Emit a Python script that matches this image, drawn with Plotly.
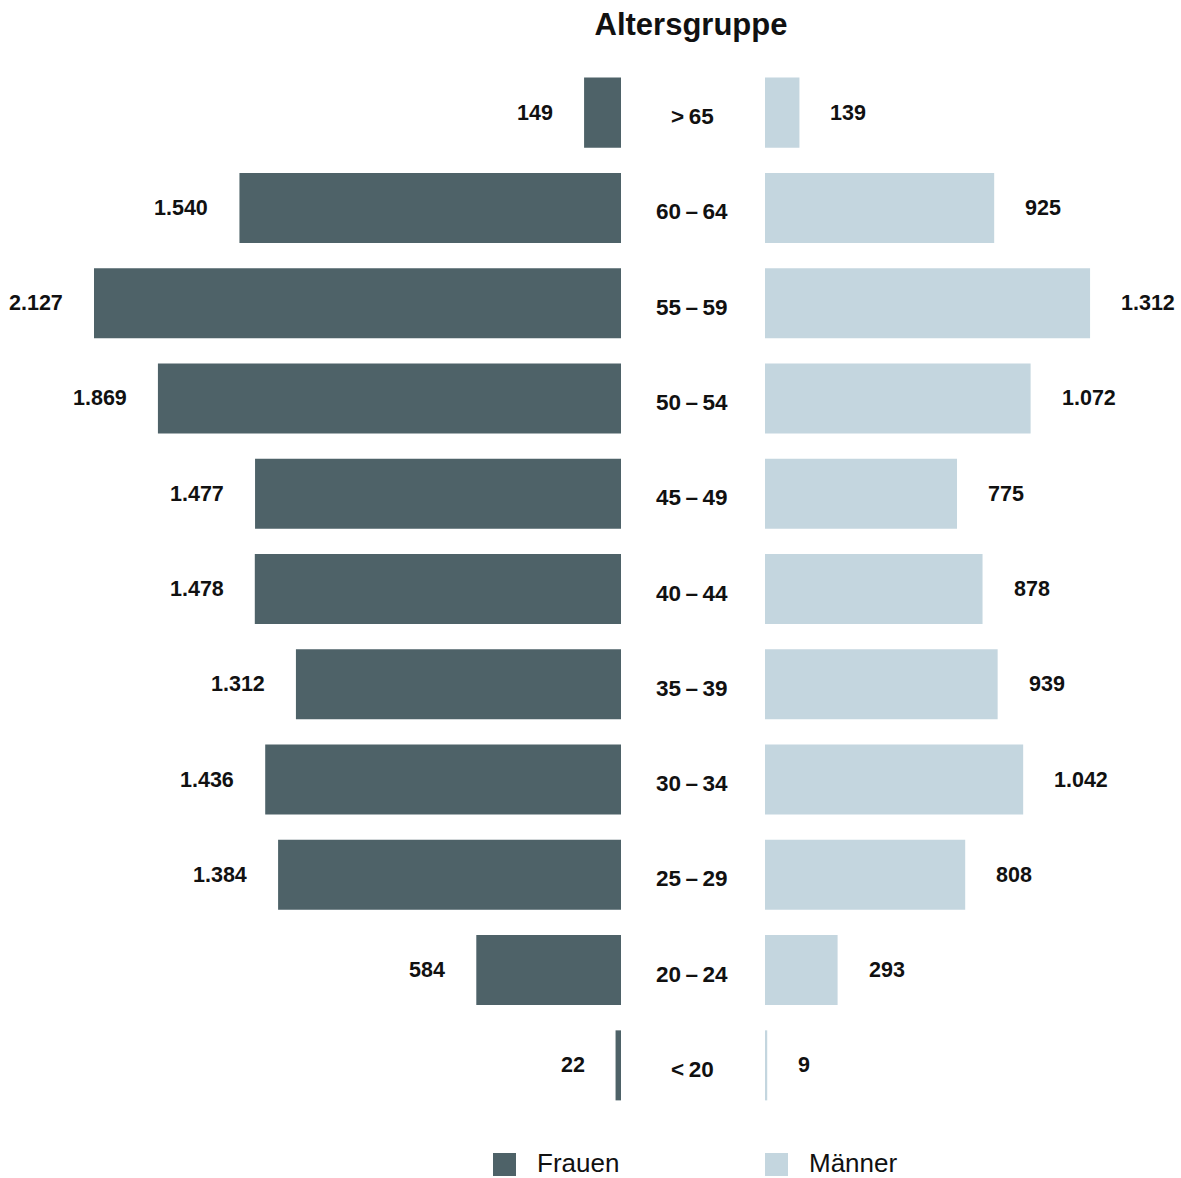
import plotly.graph_objects as go

# Age groups, top to bottom
age_groups = ["> 65", "60 – 64", "55 – 59", "50 – 54", "45 – 49", "40 – 44",
              "35 – 39", "30 – 34", "25 – 29", "20 – 24", "< 20"]
frauen = [149, 1540, 2127, 1869, 1477, 1478, 1312, 1436, 1384, 584, 22]
maenner = [139, 925, 1312, 1072, 775, 878, 939, 1042, 808, 293, 9]

DARK = "#4e6268"
LIGHT = "#c4d6df"
FONT = "Liberation Sans, Arial, sans-serif"
W, H = 1181, 1178


def de(n):
    return f"{n:,}".replace(",", ".")


fig = go.Figure()
fig.add_trace(go.Bar(y=age_groups, x=frauen, orientation="h", name="Frauen",
                     marker=dict(color=DARK, line=dict(width=0)),
                     xaxis="x", yaxis="y", hoverinfo="x+y"))
fig.add_trace(go.Bar(y=age_groups, x=maenner, orientation="h", name="Männer",
                     marker=dict(color=LIGHT, line=dict(width=0)),
                     xaxis="x2", yaxis="y", hoverinfo="x+y"))

ann = []
for g, f, m in zip(age_groups, frauen, maenner):
    ann.append(dict(x=f, y=g, xref="x", yref="y", text=de(f), showarrow=False,
                    xanchor="right", xshift=-29,
                    font=dict(family=FONT, size=21.5, color="#111", weight="bold")))
    ann.append(dict(x=m, y=g, xref="x2", yref="y", text=de(m), showarrow=False,
                    xanchor="left", xshift=29,
                    font=dict(family=FONT, size=21.5, color="#111", weight="bold")))
    ann.append(dict(x=692 / W, y=g, xref="paper", yref="y",
                    text=g.replace(" ", "\u2009"), showarrow=False,
                    xanchor="center", yshift=-4,
                    font=dict(family=FONT, size=22.5, color="#111", weight="bold")))

# Legend
plot_top, plot_bot = 65, 1113


def py(p):
    return (plot_bot - p) / (plot_bot - plot_top)


shapes = []
for x0, col, label in [(493, DARK, "Frauen"), (765, LIGHT, "Männer")]:
    shapes.append(dict(type="rect", xref="paper", yref="paper",
                       x0=x0 / W, x1=(x0 + 23) / W, y0=py(1176), y1=py(1153),
                       fillcolor=col, line=dict(width=0)))
    ann.append(dict(x=(x0 + 43) / W, y=py(1162.5), xref="paper", yref="paper",
                    text=label, showarrow=False, xanchor="left", yanchor="middle",
                    borderpad=0,
                    font=dict(family=FONT, size=26, color="#111")))

px_per_unit = 527 / 2127

fig.update_layout(
    width=W, height=H,
    margin=dict(l=0, r=0, t=plot_top, b=H - plot_bot),
    paper_bgcolor="white", plot_bgcolor="white",
    showlegend=False,
    bargap=0.265,
    title=dict(text="<b>Altersgruppe</b>", x=691 / W, xanchor="center",
               y=1 - 24 / H, yanchor="middle", yref="container",
               font=dict(family=FONT, size=31, color="#111")),
    xaxis=dict(domain=[0, 621 / W], range=[621 / px_per_unit, 0],
               visible=False, fixedrange=True),
    xaxis2=dict(domain=[765 / W, 1], range=[0, (W - 765) / px_per_unit],
                anchor="y", visible=False, fixedrange=True),
    yaxis=dict(categoryorder="array", categoryarray=age_groups,
               autorange="reversed", visible=False, fixedrange=True),
    annotations=ann,
    shapes=shapes,
)

fig.write_html("out.html")
